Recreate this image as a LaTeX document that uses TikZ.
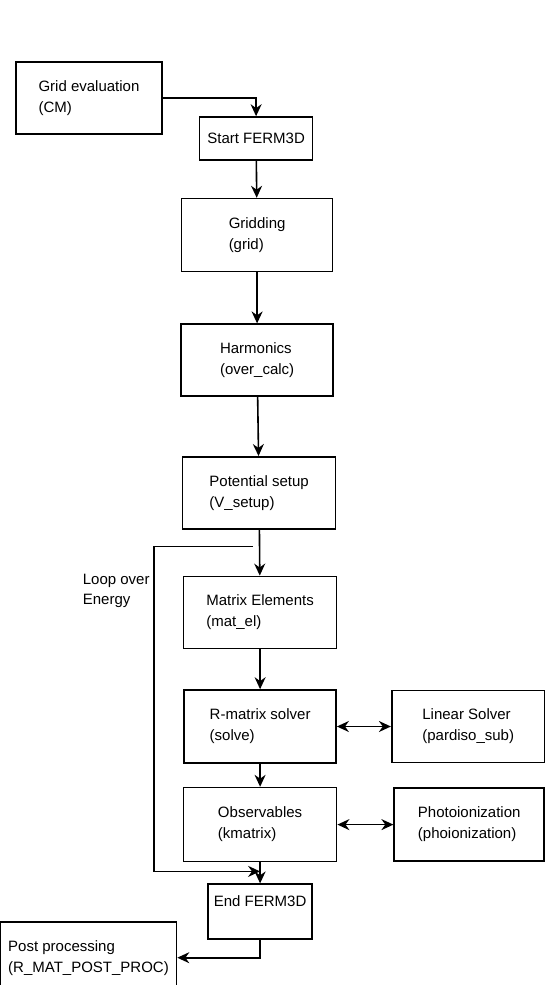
\documentclass[tikz,border=0pt]{standalone}
\usepackage{fontspec}
\setmainfont{Liberation Sans}
\usetikzlibrary{arrows.meta,positioning,calc}

\begin{document}
\begin{tikzpicture}[
        >={Stealth[length=12pt,width=11pt]},
        flow/.style={line width=1.6pt},
        box/.style={rectangle, draw=black, line width=1.6pt, minimum width=152pt, minimum height=72pt, inner sep=0pt, align=left, font=\fontsize{15}{21}\selectfont},
        txt/.style={inner sep=0pt, align=left, font=\fontsize{15}{20}\selectfont}
    ]
    \useasboundingbox (0,0) rectangle (545pt,-985pt);

    % Pre step
    \node[box, minimum width=146pt] (gridev) at (89pt,-98pt) {Grid evaluation\\(CM)};
    \node[box, minimum width=113pt, minimum height=43pt, below right=55pt and 36pt of gridev.north east] (start) {Start FERM3D};

    % Main chain
    \node[box, minimum width=151pt, minimum height=73pt, below=37pt of start, xshift=1pt] (gridding) {Gridding\\(grid)};
    \node[box, below=51pt of gridding] (harm) {Harmonics\\(over\_calc)};
    \node[box, minimum width=153pt, below=59pt of harm, xshift=2pt] (pot) {Potential setup\\(V\_setup)};
    \node[box, minimum width=153pt, below=46pt of pot, xshift=1pt] (matel) {Matrix Elements\\(mat\_el)};
    \node[box, minimum height=73pt, below=40pt of matel] (solve) {R-matrix solver\\(solve)};
    \node[box, minimum width=153pt, minimum height=74pt, below=23pt of solve] (obs) {Observables\\(kmatrix)};
    \node[box, minimum width=104pt, minimum height=55pt, below=21pt of obs] (endf) {End FERM3D\\\mbox{}};

    % Side routines
    \node[box, minimum width=153pt, right=54pt of solve] (linsol) {Linear Solver\\(pardiso\_sub)};
    \node[box, minimum width=150pt, minimum height=73pt, right=56pt of obs] (photo) {Photoionization\\(phoionization)};

    % Post step
    \node[box, minimum width=176pt, minimum height=71pt, left=30pt of endf.west, yshift=-46pt] (post) {Post processing\\(R\_MAT\_POST\_PROC)};

    % Energy loop
    \coordinate (loopstart) at ($(pot.south)+(-6pt,-17pt)$);
    \coordinate (loopleft) at ($(matel.west)+(-29pt,0)$);
    \coordinate (loopend) at ($(obs.south)+(0,-9pt)$);
    \node[txt, left=4pt of loopleft, yshift=22pt] (looplabel) {Loop over\\Energy};

    % Connections
    \draw[->, flow] (gridev) -| (start);
    \draw[->, flow] (start) -- (gridding);
    \draw[->, flow] (gridding) -- (harm);
    \draw[->, flow] (harm) -- (pot);
    \draw[->, flow] (pot) -- (matel);
    \draw[->, flow] (matel) -- (solve);
    \draw[->, flow] (solve) -- (obs);
    \draw[->, flow] (obs) -- (endf);
    \draw[<->, flow] (solve) -- (linsol);
    \draw[<->, flow] (obs) -- (photo);
    \draw[->, flow] (endf) |- (post);
    \draw[->, flow] (loopstart) -| (loopleft) |- (loopend);

\end{tikzpicture}
\end{document}
